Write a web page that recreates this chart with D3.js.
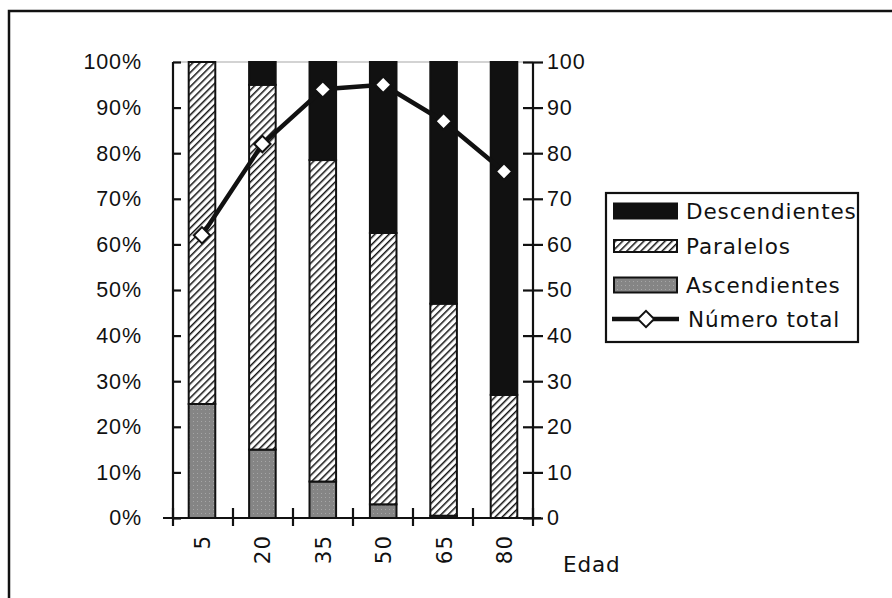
<!DOCTYPE html>
<html>
<head>
<meta charset="utf-8">
<script src="https://cdn.jsdelivr.net/npm/d3@7"></script>
<style>
  body { margin: 0; background: #fff; }
  svg { display: block; font-family: "DejaVu Sans", sans-serif; }
</style>
</head>
<body>
<svg id="chart" width="892" height="598"></svg>
<script>
// Datos
const edades = ["5", "20", "35", "50", "65", "80"];
const ascendientes = [25, 15, 8, 3, 0.5, 0];
const paralelos = [75, 80, 70.5, 59.5, 46.5, 27];
const descendientes = [0, 5, 21.5, 37.5, 53, 73];
const numeroTotal = [62, 82, 94, 95, 87, 76];
const pctTicks = [0, 10, 20, 30, 40, 50, 60, 70, 80, 90, 100];
const serieNombres = ["Ascendientes", "Paralelos", "Descendientes"];

const svg = d3.select("#chart");
const fontSize = 21.5;
const spacing = "0.9px";

// outer frame (runs off the right and bottom of the picture)
svg.append("rect")
    .attr("x", 9).attr("y", 11)
    .attr("width", 950).attr("height", 650)
    .attr("fill", "none").attr("stroke", "#111").attr("stroke-width", 2.5);

const defs = svg.append("defs");
const hatch = defs.append("pattern")
    .attr("id", "hatch")
    .attr("patternUnits", "userSpaceOnUse")
    .attr("width", 5).attr("height", 5)
    .attr("patternTransform", "rotate(45)");
hatch.append("rect").attr("width", 5).attr("height", 5).attr("fill", "#fff");
hatch.append("line")
    .attr("x1", 0).attr("y1", 0).attr("x2", 0).attr("y2", 5)
    .attr("stroke", "#111").attr("stroke-width", 3);

const dots = defs.append("pattern")
    .attr("id", "dots")
    .attr("patternUnits", "userSpaceOnUse")
    .attr("width", 4).attr("height", 4);
dots.append("rect").attr("width", 4).attr("height", 4).attr("fill", "#858585");
dots.append("rect").attr("x", 1).attr("y", 1).attr("width", 1).attr("height", 1).attr("fill", "#a6a6a6");

const fills = { Ascendientes: "url(#dots)", Paralelos: "url(#hatch)", Descendientes: "#111" };

const x0 = 173, x1 = 533, yTop = 62, yBot = 518;
const x = d3.scaleBand().domain(edades).range([x0, x1]).paddingInner(0.56).paddingOuter(0.26);
const yPct = d3.scaleLinear().domain([0, 100]).range([yBot, yTop]);
const yNum = d3.scaleLinear().domain([0, 100]).range([yBot, yTop]);

const rows = edades.map((e, i) => ({
    edad: e,
    Ascendientes: ascendientes[i],
    Paralelos: paralelos[i],
    Descendientes: descendientes[i]
}));
const stack = d3.stack().keys(serieNombres)(rows);

// faint top border of plot area
svg.append("line")
    .attr("x1", x0).attr("x2", x1).attr("y1", yTop).attr("y2", yTop)
    .attr("stroke", "#c4c4c4").attr("stroke-width", 1.5);

// bars
svg.append("g").selectAll("g")
    .data(stack)
    .join("g")
    .attr("fill", d => fills[d.key])
    .selectAll("rect")
    .data(d => d.filter(s => s[1] - s[0] > 0))
    .join("rect")
    .attr("x", d => x(d.data.edad))
    .attr("width", x.bandwidth())
    .attr("y", d => yPct(d[1]))
    .attr("height", d => yPct(d[0]) - yPct(d[1]))
    .attr("stroke", "#111")
    .attr("stroke-width", 2);

// left axis
const leftAxis = svg.append("g")
    .attr("transform", `translate(${x0},0)`)
    .call(d3.axisLeft(yPct).tickValues(pctTicks).tickFormat(d => d + "%").tickSize(10).tickPadding(21));
leftAxis.selectAll(".tick line").attr("x2", 8);

// right axis
const rightAxis = svg.append("g")
    .attr("transform", `translate(${x1},0)`)
    .call(d3.axisRight(yNum).tickValues(pctTicks).tickSize(10).tickPadding(4));
rightAxis.selectAll(".tick line").attr("x1", -10);

// bottom axis, ticks between categories
const bottom = svg.append("g").attr("transform", `translate(0,${yBot})`);
bottom.append("line")
    .attr("x1", x0 - 10).attr("x2", x1 + 8)
    .attr("stroke", "#111").attr("stroke-width", 2.2);
const bounds = d3.range(edades.length + 1).map(i => x0 + i * (x1 - x0) / edades.length);
bottom.selectAll(".sep")
    .data(bounds)
    .join("line")
    .attr("class", "sep")
    .attr("x1", d => d).attr("x2", d => d)
    .attr("y1", -10).attr("y2", 8)
    .attr("stroke", "#111").attr("stroke-width", 2.2);
bottom.selectAll(".lbl")
    .data(edades)
    .join("text")
    .attr("class", "lbl")
    .attr("transform", d => `translate(${x(d) + x.bandwidth() / 2 + 8},${17}) rotate(-90)`)
    .attr("text-anchor", "end")
    .attr("font-size", fontSize)
    .attr("letter-spacing", spacing)
    .attr("fill", "#111")
    .text(d => d);

svg.append("text")
    .attr("x", 563).attr("y", 572)
    .attr("font-size", fontSize)
    .attr("letter-spacing", spacing)
    .attr("fill", "#111")
    .text("Edad");

[leftAxis, rightAxis].forEach(a => {
    a.select(".domain").attr("stroke", "#111").attr("stroke-width", 2.2)
        .attr("d", `M0,${yBot}V${yTop}`);
    a.selectAll(".tick line").attr("stroke", "#111").attr("stroke-width", 2.2);
    a.selectAll(".tick text")
        .attr("font-size", fontSize)
        .attr("letter-spacing", spacing)
        .attr("fill", "#111");
});

// line for Número total
const cx = d => x(d) + x.bandwidth() / 2;
const line = d3.line().x((d, i) => cx(edades[i])).y(d => yNum(d));
svg.append("path")
    .datum(numeroTotal)
    .attr("d", line)
    .attr("fill", "none")
    .attr("stroke", "#111")
    .attr("stroke-width", 4.5)
    .attr("stroke-linejoin", "round");

const diamond = d3.symbol().type(d3.symbolDiamond2).size(170);
svg.append("g").selectAll("path")
    .data(numeroTotal)
    .join("path")
    .attr("transform", (d, i) => `translate(${cx(edades[i])},${yNum(d)})`)
    .attr("d", diamond)
    .attr("fill", "#fff")
    .attr("stroke", "#111")
    .attr("stroke-width", 2);

// legend
const legend = svg.append("g");
legend.append("rect")
    .attr("x", 606).attr("y", 193)
    .attr("width", 252).attr("height", 149)
    .attr("fill", "#fff").attr("stroke", "#111").attr("stroke-width", 2.2);

const legItems = [
    { name: "Descendientes", fill: fills.Descendientes, y: 211, h: 15 },
    { name: "Paralelos", fill: fills.Paralelos, y: 246, h: 12 },
    { name: "Ascendientes", fill: fills.Ascendientes, y: 285, h: 15 }
];
legItems.forEach(it => {
    legend.append("rect")
        .attr("x", 614).attr("y", it.y - it.h / 2)
        .attr("width", 63).attr("height", it.h)
        .attr("fill", it.fill).attr("stroke", "#111").attr("stroke-width", 2);
    legend.append("text")
        .attr("x", 686).attr("y", it.y + 8)
        .attr("font-size", fontSize)
        .attr("letter-spacing", spacing)
        .attr("fill", "#111")
        .text(it.name);
});
legend.append("line")
    .attr("x1", 612).attr("x2", 679).attr("y1", 319).attr("y2", 319)
    .attr("stroke", "#111").attr("stroke-width", 4.5);
legend.append("path")
    .attr("transform", "translate(646,319)")
    .attr("d", diamond)
    .attr("fill", "#fff").attr("stroke", "#111").attr("stroke-width", 2);
legend.append("text")
    .attr("x", 688).attr("y", 327)
    .attr("font-size", fontSize)
    .attr("letter-spacing", spacing)
    .attr("fill", "#111")
    .text("Número total");
</script>
</body>
</html>
